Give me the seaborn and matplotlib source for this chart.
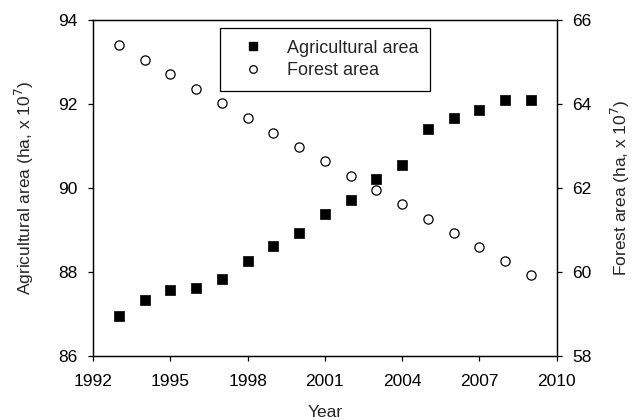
import matplotlib
matplotlib.use("Agg")
import matplotlib.pyplot as plt
import seaborn as sns
import pandas as pd
from matplotlib.lines import Line2D

years = list(range(1993, 2010))
agricultural = [86.95, 87.33, 87.58, 87.63, 87.84, 88.26, 88.62, 88.93, 89.38, 89.72,
                90.21, 90.54, 91.40, 91.68, 91.86, 92.09, 92.09]
forest = [65.40, 65.06, 64.72, 64.36, 64.02, 63.67, 63.32, 62.98, 62.64, 62.30,
          61.96, 61.62, 61.27, 60.94, 60.61, 60.27, 59.94]
x_ticks = [1992, 1995, 1998, 2001, 2004, 2007, 2010]
left_ticks = [86, 88, 90, 92, 94]
right_ticks = [58, 60, 62, 64, 66]

df = pd.DataFrame({"Year": years, "Agricultural": agricultural, "Forest": forest})

sns.set_theme(style="ticks")
plt.rcParams['font.family'] = ['Liberation Sans', 'DejaVu Sans']
plt.rcParams['axes.linewidth'] = 0.9
plt.rcParams['xtick.major.width'] = 0.9
plt.rcParams['ytick.major.width'] = 0.9

fig = plt.figure(figsize=(6.34, 4.2), dpi=100)
ax = fig.add_axes([0.147, 0.152, 0.731, 0.800])
ax2 = ax.twinx()

sns.scatterplot(data=df, x="Year", y="Agricultural", ax=ax, marker="s", s=44,
                color="black", edgecolor="black", linewidth=0.5, zorder=3)
sns.scatterplot(data=df, x="Year", y="Forest", ax=ax2, marker="o", s=44,
                facecolor="white", edgecolor="black", linewidth=0.9, zorder=3)

ax.set_xlim(1992, 2010)
ax.set_ylim(86, 94)
ax2.set_ylim(58, 66)
ax.set_xticks(x_ticks)
ax.set_yticks(left_ticks)
ax2.set_yticks(right_ticks)

for a in (ax, ax2):
    a.tick_params(axis="both", direction="out", length=3.5, labelsize=12.5, colors="black")
    a.tick_params(axis="y", pad=8)
    for sp in a.spines.values():
        sp.set_visible(True)
        sp.set_color("black")
ax.tick_params(axis="x", pad=9)

ax.set_xlabel("Year", fontsize=12.5, labelpad=12)
ax.set_ylabel("Agricultural area (ha, x 10$^7$)", fontsize=12.5, labelpad=16)
ax2.set_ylabel("Forest area (ha, x 10$^7$)", fontsize=12.5, labelpad=12)

handles = [
    Line2D([], [], marker="s", linestyle="none", markersize=5.5, markerfacecolor="black",
           markeredgecolor="black"),
    Line2D([], [], marker="o", linestyle="none", markersize=5.5, markerfacecolor="white",
           markeredgecolor="black", markeredgewidth=0.9),
]
leg = ax2.legend(handles, ["Agricultural area", "Forest area"], loc="upper left",
                 bbox_to_anchor=(0.262, 0.993), fontsize=13, frameon=True, fancybox=False,
                 edgecolor="black", handletextpad=0.75, borderpad=0.65, labelspacing=0.3,
                 borderaxespad=0.3, handlelength=2.3)
leg.get_frame().set_linewidth(0.9)
leg.get_frame().set_alpha(1)

fig.savefig("out.png", dpi=100)
